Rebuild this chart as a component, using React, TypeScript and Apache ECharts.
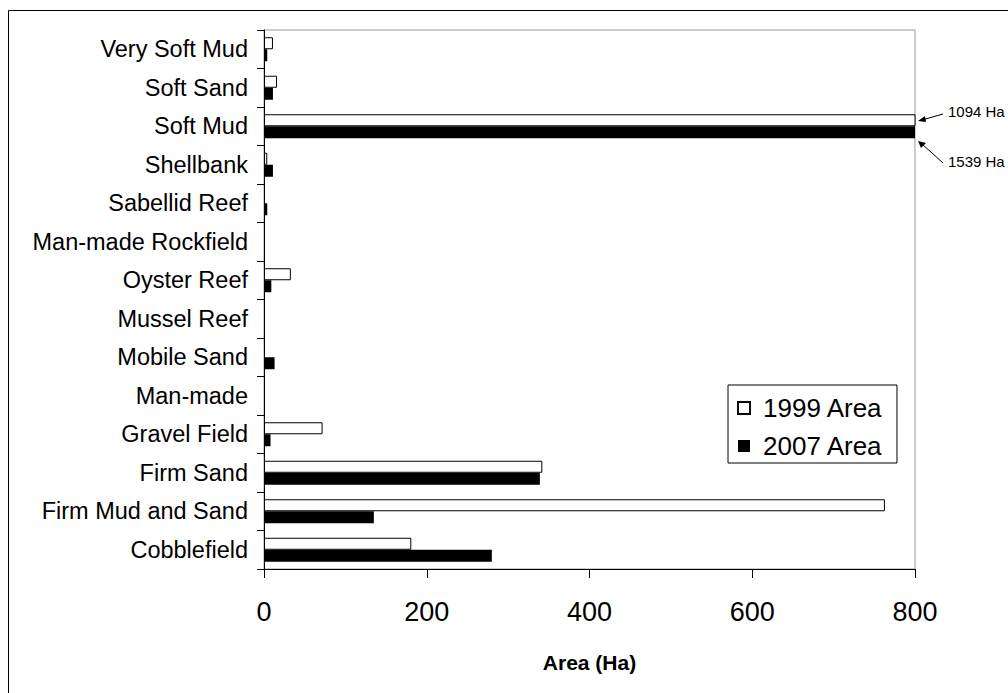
import React, { useEffect, useRef } from "react";
import * as echarts from "echarts";

const categories = [
  "Cobblefield",
  "Firm Mud and Sand",
  "Firm Sand",
  "Gravel Field",
  "Man-made",
  "Mobile Sand",
  "Mussel Reef",
  "Oyster Reef",
  "Man-made Rockfield",
  "Sabellid Reef",
  "Shellbank",
  "Soft Mud",
  "Soft Sand",
  "Very Soft Mud",
];
const area1999 = [181, 763, 342, 72, 0, 0, 0, 33, 0, 0, 4, 1094, 16, 11];
const area2007 = [280, 135, 339, 8, 0, 13, 0, 9, 0, 4, 11, 1539, 11, 4];
const xTicks = [0, 200, 400, 600, 800];
const notes = ["1094 Ha", "1539 Ha"];

const FONT = "'Liberation Sans', Arial, sans-serif";

export default function App() {
  const ref = useRef<HTMLDivElement>(null);
  useEffect(() => {
    const chart = echarts.init(ref.current!, null, { renderer: "svg" });
    const noteStyle = (t: string) => ({
      text: t,
      fill: "#000",
      fontSize: 15,
      fontFamily: FONT,
      verticalAlign: "middle",
    });
    chart.setOption({
      animation: false,
      textStyle: { fontFamily: FONT },
      grid: {
        left: 264,
        top: 30,
        right: 93,
        bottom: 124,
        show: true,
        borderColor: "#999",
        borderWidth: 1,
        backgroundColor: "transparent",
      },
      legend: {
        orient: "vertical",
        left: 728,
        top: 385,
        data: ["1999 Area", "2007 Area"],
        icon: "rect",
        itemWidth: 12,
        itemHeight: 12,
        itemGap: 12,
        padding: [10, 14, 4, 9],
        borderColor: "#000",
        borderWidth: 1,
        backgroundColor: "#fff",
        textStyle: { fontSize: 26, color: "#000", fontFamily: FONT, padding: [0, 0, 0, 8] },
      },
      xAxis: {
        type: "value",
        min: xTicks[0],
        max: xTicks[xTicks.length - 1],
        interval: 200,
        splitLine: { show: false },
        axisLine: { show: true, lineStyle: { color: "#000" } },
        axisTick: { show: true, length: 9, lineStyle: { color: "#000" } },
        axisLabel: { fontSize: 27, color: "#000", margin: 29, fontFamily: FONT },
        name: "Area (Ha)",
        nameLocation: "middle",
        nameGap: 83,
        nameTextStyle: { fontSize: 21, fontWeight: "bold", color: "#000", fontFamily: FONT },
      },
      yAxis: {
        type: "category",
        data: categories,
        axisLine: { show: true, lineStyle: { color: "#000" } },
        axisTick: { show: true, length: 7, lineStyle: { color: "#000" } },
        axisLabel: { fontSize: 23.5, color: "#000", margin: 16, fontFamily: FONT },
      },
      series: [
        {
          name: "1999 Area",
          type: "bar",
          data: area1999.map((v) => (v === 0 ? { value: v, itemStyle: { borderWidth: 0 } } : v)),
          barWidth: 12,
          barGap: "0%",
          itemStyle: { color: "#fff", borderColor: "#000", borderWidth: 1 },
        },
        {
          name: "2007 Area",
          type: "bar",
          data: area2007,
          barWidth: 12,
          barGap: "0%",
          itemStyle: { color: "#000" },
        },
      ],
      graphic: [
        {
          type: "rect",
          shape: { x: 8.5, y: 10.5, width: 1100, height: 800 },
          style: { fill: "none", stroke: "#000", lineWidth: 1 },
          silent: true,
        },
        { type: "text", x: 948, y: 111, style: noteStyle(notes[0]) },
        { type: "text", x: 948, y: 161, style: noteStyle(notes[1]) },
        { type: "line", shape: { x1: 943, y1: 114, x2: 922, y2: 120 }, style: { stroke: "#000", lineWidth: 1 } },
        { type: "polygon", shape: { points: [[918, 121], [925, 116], [926, 122]] }, style: { fill: "#000" } },
        { type: "line", shape: { x1: 943, y1: 163, x2: 922, y2: 144 }, style: { stroke: "#000", lineWidth: 1 } },
        { type: "polygon", shape: { points: [[918, 141], [926, 143], [921, 148]] }, style: { fill: "#000" } },
      ],
    });
    return () => chart.dispose();
  }, []);
  return (
    <div
      ref={ref}
      style={{ position: "absolute", left: 0, top: 0, width: 1008, height: 693, background: "#fff" }}
    />
  );
}
